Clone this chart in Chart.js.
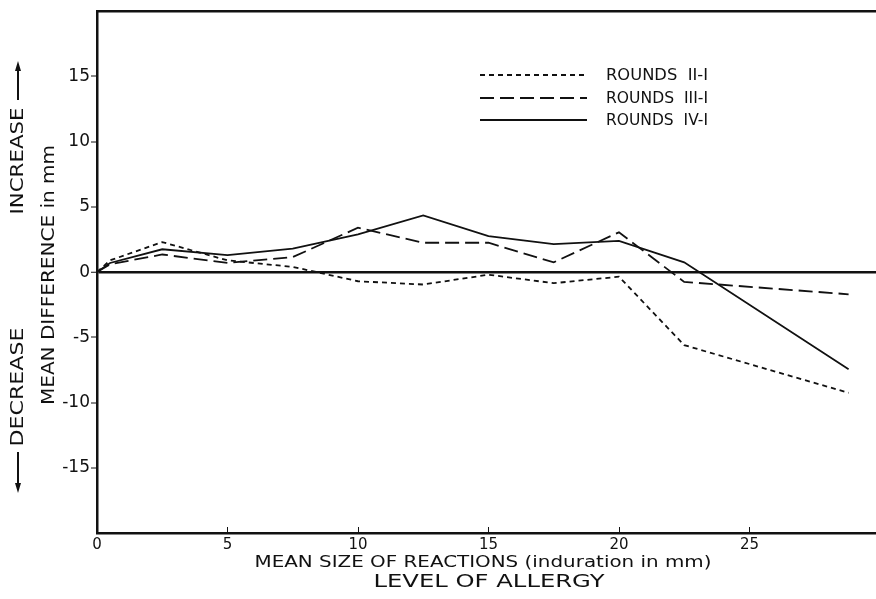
<!DOCTYPE html>
<html>
<head>
<meta charset="utf-8">
<script src="https://cdn.jsdelivr.net/npm/chart.js@4.4.1/dist/chart.umd.min.js"></script>
<style>
  body { margin: 0; background: #fff; }
  #wrap { width: 876px; height: 599px; }
</style>
</head>
<body>
<div id="wrap"><canvas id="chart" width="876" height="599"></canvas></div>
<script>
// values (mean size of reaction, mm)
const sizes = [0, 0.5, 2.5, 5, 7.5, 10, 12.5, 15, 17.5, 20, 22.5, 28.8];
const roundsII = [0, 0.9, 2.3, 0.9, 0.4, -0.7, -0.95, -0.2, -0.85, -0.35, -5.6, -9.25];
const roundsIII = [0, 0.6, 1.35, 0.7, 1.15, 3.4, 2.25, 2.25, 0.75, 3.05, -0.75, -1.7];
const roundsIV = [0, 0.7, 1.75, 1.3, 1.8, 2.9, 4.35, 2.75, 2.15, 2.4, 0.75, -7.45];
const seriesNames = ['ROUNDS  II-I', 'ROUNDS  III-I', 'ROUNDS  IV-I'];
const xTicks = [0, 5, 10, 15, 20, 25];
const yTicks = [-15, -10, -5, 0, 5, 10, 15];

const toPoints = vals => vals.map((v, i) => ({ x: sizes[i], y: v }));

// draw text squeezed/stretched to a given width
function fitText(ctx, text, cx, cy, width, font, rot) {
    ctx.save();
    ctx.font = font;
    ctx.fillStyle = '#111';
    ctx.textAlign = 'center';
    ctx.textBaseline = 'middle';
    ctx.translate(cx, cy);
    if (rot) ctx.rotate(rot);
    const w = ctx.measureText(text).width;
    ctx.scale(width / w, 1);
    ctx.fillText(text, 0, 0);
    ctx.restore();
}

const extras = {
    id: 'extras',
    afterDraw(chart) {
        const ctx = chart.ctx;
        const a = chart.chartArea;
        const x = chart.scales.x;

        ctx.save();
        ctx.strokeStyle = '#111';
        // top frame line
        ctx.lineWidth = 2.5;
        ctx.beginPath();
        ctx.moveTo(a.left - 1, a.top);
        ctx.lineTo(a.right, a.top);
        ctx.stroke();
        // small inward tick marks on the x axis
        ctx.lineWidth = 1;
        x.ticks.forEach(t => {
            if (t.value === 0) return;
            const px = Math.round(x.getPixelForValue(t.value)) + 0.5;
            ctx.beginPath();
            ctx.moveTo(px, a.bottom);
            ctx.lineTo(px, a.bottom - 6);
            ctx.stroke();
        });

        // legend
        const rows = [75, 98, 120];
        chart.data.datasets.forEach((ds, i) => {
            ctx.lineWidth = 2;
            ctx.setLineDash(ds.borderDash || []);
            ctx.beginPath();
            ctx.moveTo(a.left + 383, rows[i]);
            ctx.lineTo(a.left + 490, rows[i]);
            ctx.stroke();
            ctx.setLineDash([]);
            ctx.save();
            ctx.font = '15px "DejaVu Sans"';
            ctx.fillStyle = '#111';
            ctx.textBaseline = 'middle';
            ctx.translate(a.left + 509, rows[i] + 1);
            const w = ctx.measureText(ds.label).width;
            ctx.scale(102 / w, 1);
            ctx.fillText(ds.label, 0, 0);
            ctx.restore();
        });
        ctx.restore();

        // axis titles
        fitText(ctx, 'MEAN SIZE OF REACTIONS (induration in mm)', 483, 563, 457, '15px "DejaVu Sans"');
        fitText(ctx, 'LEVEL OF ALLERGY', 489, 582, 231, '18px "DejaVu Sans"');
        fitText(ctx, 'MEAN DIFFERENCE in mm', 50, 275, 260, '17px "DejaVu Sans"', -Math.PI / 2);
        fitText(ctx, 'INCREASE', 18, 161, 107, '18px "DejaVu Sans"', -Math.PI / 2);
        fitText(ctx, 'DECREASE', 18, 387, 119, '18px "DejaVu Sans"', -Math.PI / 2);

        // arrows beside INCREASE / DECREASE
        ctx.save();
        ctx.strokeStyle = '#111';
        ctx.fillStyle = '#111';
        ctx.lineWidth = 2;
        ctx.beginPath();
        ctx.moveTo(18, 100); ctx.lineTo(18, 68);
        ctx.moveTo(18, 452); ctx.lineTo(18, 486);
        ctx.stroke();
        ctx.beginPath();
        ctx.moveTo(18, 61); ctx.lineTo(15, 71); ctx.lineTo(21, 71); ctx.closePath();
        ctx.moveTo(18, 493); ctx.lineTo(15, 483); ctx.lineTo(21, 483); ctx.closePath();
        ctx.fill();
        ctx.restore();
    }
};

new Chart(document.getElementById('chart'), {
    type: 'line',
    data: {
        datasets: [
            { label: seriesNames[0], data: toPoints(roundsII), borderDash: [5, 4] },
            { label: seriesNames[1], data: toPoints(roundsIII), borderDash: [14, 6] },
            { label: seriesNames[2], data: toPoints(roundsIV), borderDash: [] }
        ].map(d => Object.assign(d, {
            borderColor: '#111',
            borderWidth: 1.8,
            pointRadius: 0,
            tension: 0,
            fill: false
        }))
    },
    options: {
        responsive: false,
        animation: false,
        layout: { padding: { top: 10, left: 0, right: 0, bottom: 0 } },
        plugins: { legend: { display: false }, tooltip: { enabled: false } },
        scales: {
            x: {
                type: 'linear',
                min: 0,
                max: 29.85,
                afterBuildTicks: s => { s.ticks = xTicks.map(v => ({ value: v })); },
                afterFit: s => { s.height = 66; },
                border: { display: true, color: '#111', width: 2.5 },
                grid: { display: false, drawTicks: false },
                ticks: {
                    color: '#111',
                    padding: 3,
                    maxRotation: 0,
                    font: { family: 'DejaVu Sans', size: 15 }
                }
            },
            y: {
                min: -20,
                max: 20,
                afterBuildTicks: s => { s.ticks = yTicks.map(v => ({ value: v })); },
                afterFit: s => { s.width = 97; },
                border: { display: true, color: '#111', width: 2.5 },
                grid: {
                    drawOnChartArea: true,
                    color: c => (c.tick && c.tick.value === 0 ? '#111' : 'rgba(0,0,0,0)'),
                    lineWidth: c => (c.tick && c.tick.value === 0 ? 2.5 : 0),
                    tickColor: '#111',
                    tickWidth: 1,
                    tickLength: 6
                },
                ticks: {
                    color: '#111',
                    padding: 1,
                    font: { family: 'DejaVu Sans', size: 17 }
                }
            }
        }
    },
    plugins: [extras]
});
</script>
</body>
</html>
